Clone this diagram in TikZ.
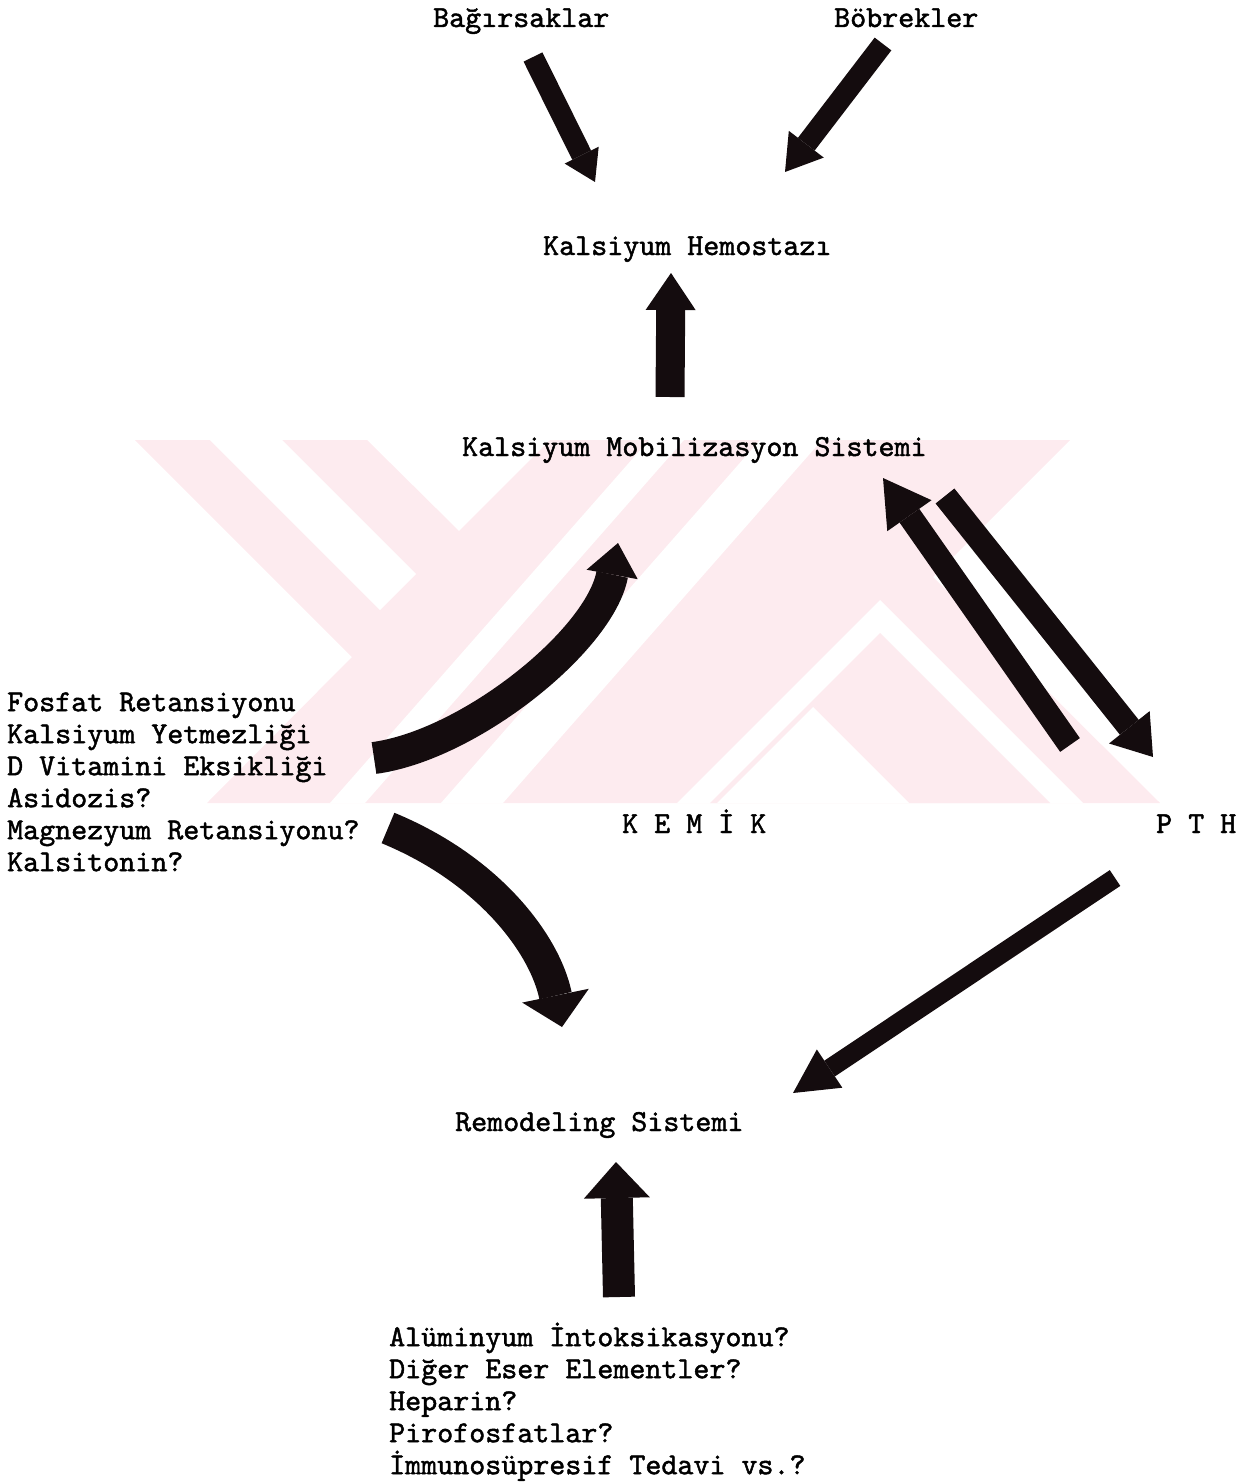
\documentclass[tikz,border=0pt]{standalone}
\usepackage{fontspec}
\usetikzlibrary{arrows.meta}
\newfontfamily\typeface{lmmono10-regular.otf}[FakeBold=1.5]
\definecolor{wmPink}{RGB}{253,235,239}
\definecolor{ink}{RGB}{20,12,14}
\newcommand{\typew}{\typeface\fontsize{30.5pt}{32pt}\selectfont}

\begin{document}
\begin{tikzpicture}[x=1pt, y=-1pt,
    lbl/.style={font=\typew, inner sep=0pt, text height=20pt,
      text depth=7pt, anchor=base west},
    lst/.style={font=\typew, inner sep=0pt, align=left, anchor=north west},
    fat/.style={draw=ink, line width=#1},
    blockhead/.style 2 args={-{Triangle[length=#1, width=#2, line width=0pt]}}
  ]
  \useasboundingbox (0,0) rectangle (1255,1482);

  % watermark behind the middle
  \begin{scope}
    \clip (0,440) rectangle (1255,803);
    \fill[wmPink] (135,440) -- (367,440) -- (459,531) -- (550,440) -- (1070,440)
      -- (933,577) -- (1160,803) -- (207,803) -- (352,657) -- cycle;
    \fill[white] (210,440) -- (282,440) -- (416,574) -- (380,610) -- cycle;
    \fill[white] (649,440) -- (684,440) -- (365,803) -- (330,803) -- cycle;
    \fill[white] (760,440) -- (822,440) -- (503,803) -- (441,803) -- cycle;
    \fill[white] (880,600) -- (1083,803) -- (677,803) -- cycle;
    \fill[wmPink] (880,633) -- (1050,803) -- (710,803) -- cycle;
    \fill[white] (813,707) -- (909,803) -- (717,803) -- cycle;
  \end{scope}

  % labels
  \node[lbl] (bag) at (433,27) {Bağırsaklar};
  \node[lbl] (bob) at (834,27) {Böbrekler};
  \node[lbl] (hemo) at (543,255) {Kalsiyum Hemostazı};
  \node[lbl] (mobil) at (462,456) {Kalsiyum Mobilizasyon Sistemi};
  \node[lbl] (kemik) at (622,833) {K E M İ K};
  \node[lbl] (pth) at (1156,833) {P T H};
  \node[lbl] (remod) at (455,1131) {Remodeling Sistemi};

  \node[lst] (factors) at (7,685)
    {\rule{0pt}{26pt}Fosfat Retansiyonu\\
     Kalsiyum Yetmezliği\\
     D Vitamini Eksikliği\\
     Asidozis?\\
     Magnezyum Retansiyonu?\\
     Kalsitonin?};

  \node[lst] (inhib) at (389,1320)
    {\rule{0pt}{26pt}Alüminyum İntoksikasyonu?\\
     Diğer Eser Elementler?\\
     Heparin?\\
     Pirofosfatlar?\\
     İmmunosüpresif Tedavi vs.?};

  % arrow ends
  \coordinate (bagT) at (533,57);      \coordinate (bagH) at (595,182);
  \coordinate (bobT) at (883,44);      \coordinate (bobH) at (785,172);
  \coordinate (upT) at (670,397);      \coordinate (upH) at (671,273);
  \coordinate (kemUpT) at (374,758);   \coordinate (kemUpH) at (618,543);
  \coordinate (pthUpT) at (1070,745);  \coordinate (pthUpH) at (883,478);
  \coordinate (pthDnT) at (945,496);   \coordinate (pthDnH) at (1153,757);
  \coordinate (kemDnT) at (388,828);   \coordinate (kemDnH) at (562,1027);
  \coordinate (pthRmT) at (1115,878);  \coordinate (pthRmH) at (793,1093);
  \coordinate (botT) at (619,1297);    \coordinate (botH) at (616,1162);

  % Arrows
  \draw[fat=21pt, blockhead={30pt}{38pt}] (bagT) -- (bagH);
  \draw[fat=21pt, blockhead={35pt}{44pt}] (bobT) -- (bobH);
  \draw[fat=29pt, blockhead={37pt}{50pt}] (upT) -- (upH);
  \draw[fat=32pt, blockhead={32pt}{52pt}] (kemUpT)
    .. controls (470,745) and (600,640) .. (kemUpH);
  \draw[fat=24pt, blockhead={46pt}{54pt}] (pthUpT) -- (pthUpH);
  \draw[fat=24pt, blockhead={38pt}{52pt}] (pthDnT) -- (pthDnH);
  \draw[fat=33pt, blockhead={32pt}{68pt}] (kemDnT)
    .. controls (490,870) and (545,945) .. (kemDnH);
  \draw[fat=19pt, blockhead={44pt}{46pt}] (pthRmT) -- (pthRmH);
  \draw[fat=32pt, blockhead={36pt}{66pt}] (botT) -- (botH);
\end{tikzpicture}
\end{document}
